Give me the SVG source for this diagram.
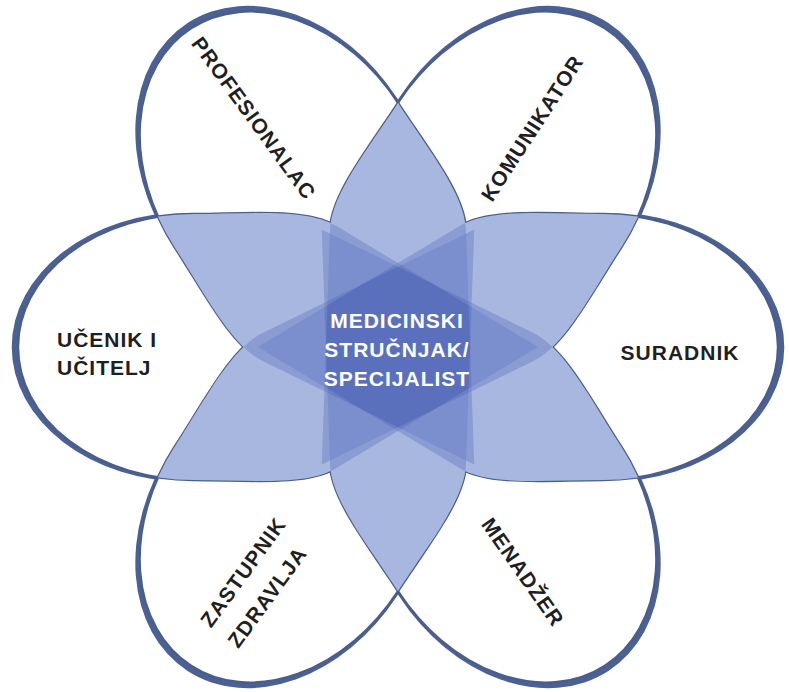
<svg xmlns="http://www.w3.org/2000/svg" width="789" height="692" viewBox="0 0 789 692">
<style>
.rim{fill:#4b6194}
.pf{fill:#ffffff}
.ol{fill:none;stroke:#4a5e8c;stroke-width:2.4}
.l2{fill:#a8b7df}
.l3{fill:#8a9cd2}
.l4{fill:#7b8ecd}
.l5{fill:#6a7fc4}
.l6{fill:#5a70bc}
.lab{font-family:"Liberation Sans",Arial,Helvetica,sans-serif;font-weight:bold;font-size:21px;letter-spacing:1px;fill:#1f1f1f}
.ctr{fill:#ffffff}
</style>
<defs>
<path id="p0" d="M380 0A175 133 0 0 1 205 133C150 133 92 139.2 62 121.2L-140 0L62 -121.2C92 -139.2 150 -133 205 -133A175 133 0 0 1 380 0Z" transform="translate(398 347) rotate(180)"/>
<path id="p1" d="M380 0A175 133 0 0 1 205 133C150 133 92 139.2 62 121.2L-140 0L62 -121.2C92 -139.2 150 -133 205 -133A175 133 0 0 1 380 0Z" transform="translate(398 347) rotate(237)"/>
<path id="p2" d="M380 0A175 133 0 0 1 205 133C150 133 92 139.2 62 121.2L-140 0L62 -121.2C92 -139.2 150 -133 205 -133A175 133 0 0 1 380 0Z" transform="translate(398 347) rotate(303)"/>
<path id="p3" d="M380 0A175 133 0 0 1 205 133C150 133 92 139.2 62 121.2L-140 0L62 -121.2C92 -139.2 150 -133 205 -133A175 133 0 0 1 380 0Z" transform="translate(398 347) rotate(0)"/>
<path id="p4" d="M380 0A175 133 0 0 1 205 133C150 133 92 139.2 62 121.2L-140 0L62 -121.2C92 -139.2 150 -133 205 -133A175 133 0 0 1 380 0Z" transform="translate(398 347) rotate(57)"/>
<path id="p5" d="M380 0A175 133 0 0 1 205 133C150 133 92 139.2 62 121.2L-140 0L62 -121.2C92 -139.2 150 -133 205 -133A175 133 0 0 1 380 0Z" transform="translate(398 347) rotate(123)"/>
<clipPath id="c0"><use href="#p0"/></clipPath>
<clipPath id="c1"><use href="#p1"/></clipPath>
<clipPath id="c2"><use href="#p2"/></clipPath>
<clipPath id="c3"><use href="#p3"/></clipPath>
<clipPath id="c4"><use href="#p4"/></clipPath>
<clipPath id="c5"><use href="#p5"/></clipPath>
</defs>
<rect width="789" height="692" fill="#ffffff"/>
<g id="rims" class="rim">
<path d="M380 0A175 133 0 0 1 205 133C150 133 92 139.2 62 121.2L-140 0L62 -121.2C92 -139.2 150 -133 205 -133A175 133 0 0 1 380 0Z" transform="translate(398 347) rotate(180) translate(4 0) scale(1.006 1.013)"/>
<path d="M380 0A175 133 0 0 1 205 133C150 133 92 139.2 62 121.2L-140 0L62 -121.2C92 -139.2 150 -133 205 -133A175 133 0 0 1 380 0Z" transform="translate(398 347) rotate(237) translate(4 0) scale(1.006 1.013)"/>
<path d="M380 0A175 133 0 0 1 205 133C150 133 92 139.2 62 121.2L-140 0L62 -121.2C92 -139.2 150 -133 205 -133A175 133 0 0 1 380 0Z" transform="translate(398 347) rotate(303) translate(4 0) scale(1.006 1.013)"/>
<path d="M380 0A175 133 0 0 1 205 133C150 133 92 139.2 62 121.2L-140 0L62 -121.2C92 -139.2 150 -133 205 -133A175 133 0 0 1 380 0Z" transform="translate(398 347) rotate(0) translate(4 0) scale(1.006 1.013)"/>
<path d="M380 0A175 133 0 0 1 205 133C150 133 92 139.2 62 121.2L-140 0L62 -121.2C92 -139.2 150 -133 205 -133A175 133 0 0 1 380 0Z" transform="translate(398 347) rotate(57) translate(4 0) scale(1.006 1.013)"/>
<path d="M380 0A175 133 0 0 1 205 133C150 133 92 139.2 62 121.2L-140 0L62 -121.2C92 -139.2 150 -133 205 -133A175 133 0 0 1 380 0Z" transform="translate(398 347) rotate(123) translate(4 0) scale(1.006 1.013)"/>
</g>
<g id="petal-fills" class="pf">
<use href="#p0"/><use href="#p1"/><use href="#p2"/><use href="#p3"/><use href="#p4"/><use href="#p5"/>
</g>
<g id="node-ucenik">
<use href="#p0" class="ol"/>
<text class="lab" x="57" y="347">UČENIK I</text>
<text class="lab" x="57" y="375">UČITELJ</text>
</g>
<g id="node-profesionalac">
<use href="#p1" class="ol"/>
<text class="lab" text-anchor="middle" transform="translate(254 118) rotate(54)" y="7.5">PROFESIONALAC</text>
</g>
<g id="node-komunikator">
<use href="#p2" class="ol"/>
<text class="lab" text-anchor="middle" transform="translate(532 128) rotate(-57)" y="7.5">KOMUNIKATOR</text>
</g>
<g id="node-suradnik">
<use href="#p3" class="ol"/>
<text class="lab" text-anchor="middle" x="680" y="360">SURADNIK</text>
</g>
<g id="node-menadzer">
<use href="#p4" class="ol"/>
<text class="lab" text-anchor="middle" transform="translate(523 572) rotate(55)" y="7.5">MENADŽER</text>
</g>
<g id="node-zastupnik">
<use href="#p5" class="ol"/>
<text class="lab" text-anchor="middle" transform="translate(243 572) rotate(-54)" y="7.5">ZASTUPNIK</text>
<text class="lab" text-anchor="middle" transform="translate(267 597) rotate(-54)" y="7.5">ZDRAVLJA</text>
</g>
<g id="overlap-2" class="l2">
<g clip-path="url(#c0)"><use href="#p1"/><use href="#p2"/><use href="#p3"/><use href="#p4"/><use href="#p5"/></g>
<g clip-path="url(#c1)"><use href="#p2"/><use href="#p3"/><use href="#p4"/><use href="#p5"/></g>
<g clip-path="url(#c2)"><use href="#p3"/><use href="#p4"/><use href="#p5"/></g>
<g clip-path="url(#c3)"><use href="#p4"/><use href="#p5"/></g>
<g clip-path="url(#c4)"><use href="#p5"/></g>
</g>
<g id="overlap-3" class="l3">
<g clip-path="url(#c0)">
<g clip-path="url(#c1)"><use href="#p2"/><use href="#p3"/><use href="#p4"/><use href="#p5"/></g>
<g clip-path="url(#c2)"><use href="#p3"/><use href="#p4"/><use href="#p5"/></g>
<g clip-path="url(#c3)"><use href="#p4"/><use href="#p5"/></g>
<g clip-path="url(#c4)"><use href="#p5"/></g>
</g>
<g clip-path="url(#c1)">
<g clip-path="url(#c2)"><use href="#p3"/><use href="#p4"/><use href="#p5"/></g>
<g clip-path="url(#c3)"><use href="#p4"/><use href="#p5"/></g>
<g clip-path="url(#c4)"><use href="#p5"/></g>
</g>
<g clip-path="url(#c2)">
<g clip-path="url(#c3)"><use href="#p4"/><use href="#p5"/></g>
<g clip-path="url(#c4)"><use href="#p5"/></g>
</g>
<g clip-path="url(#c3)"><g clip-path="url(#c4)"><use href="#p5"/></g></g>
</g>
<g id="overlap-4" class="l4">
<g clip-path="url(#c0)">
<g clip-path="url(#c1)">
<g clip-path="url(#c2)"><use href="#p3"/><use href="#p4"/><use href="#p5"/></g>
<g clip-path="url(#c3)"><use href="#p4"/><use href="#p5"/></g>
<g clip-path="url(#c4)"><use href="#p5"/></g>
</g>
<g clip-path="url(#c2)">
<g clip-path="url(#c3)"><use href="#p4"/><use href="#p5"/></g>
<g clip-path="url(#c4)"><use href="#p5"/></g>
</g>
<g clip-path="url(#c3)"><g clip-path="url(#c4)"><use href="#p5"/></g></g>
</g>
<g clip-path="url(#c1)">
<g clip-path="url(#c2)">
<g clip-path="url(#c3)"><use href="#p4"/><use href="#p5"/></g>
<g clip-path="url(#c4)"><use href="#p5"/></g>
</g>
<g clip-path="url(#c3)"><g clip-path="url(#c4)"><use href="#p5"/></g></g>
</g>
<g clip-path="url(#c2)"><g clip-path="url(#c3)"><g clip-path="url(#c4)"><use href="#p5"/></g></g></g>
</g>
<g id="overlap-5" class="l5">
<g clip-path="url(#c0)">
<g clip-path="url(#c1)">
<g clip-path="url(#c2)">
<g clip-path="url(#c3)"><use href="#p4"/><use href="#p5"/></g>
<g clip-path="url(#c4)"><use href="#p5"/></g>
</g>
<g clip-path="url(#c3)"><g clip-path="url(#c4)"><use href="#p5"/></g></g>
</g>
<g clip-path="url(#c2)"><g clip-path="url(#c3)"><g clip-path="url(#c4)"><use href="#p5"/></g></g></g>
</g>
<g clip-path="url(#c1)"><g clip-path="url(#c2)"><g clip-path="url(#c3)"><g clip-path="url(#c4)"><use href="#p5"/></g></g></g></g>
</g>
<g id="overlap-6" class="l6">
<g clip-path="url(#c0)"><g clip-path="url(#c1)"><g clip-path="url(#c2)"><g clip-path="url(#c3)"><g clip-path="url(#c4)"><use href="#p5"/></g></g></g></g></g>
</g>
<g id="node-center">
<text class="lab ctr" text-anchor="middle" x="397" y="328">MEDICINSKI</text>
<text class="lab ctr" text-anchor="middle" x="397" y="357">STRUČNJAK/</text>
<text class="lab ctr" text-anchor="middle" x="397" y="386">SPECIJALIST</text>
</g>
</svg>
